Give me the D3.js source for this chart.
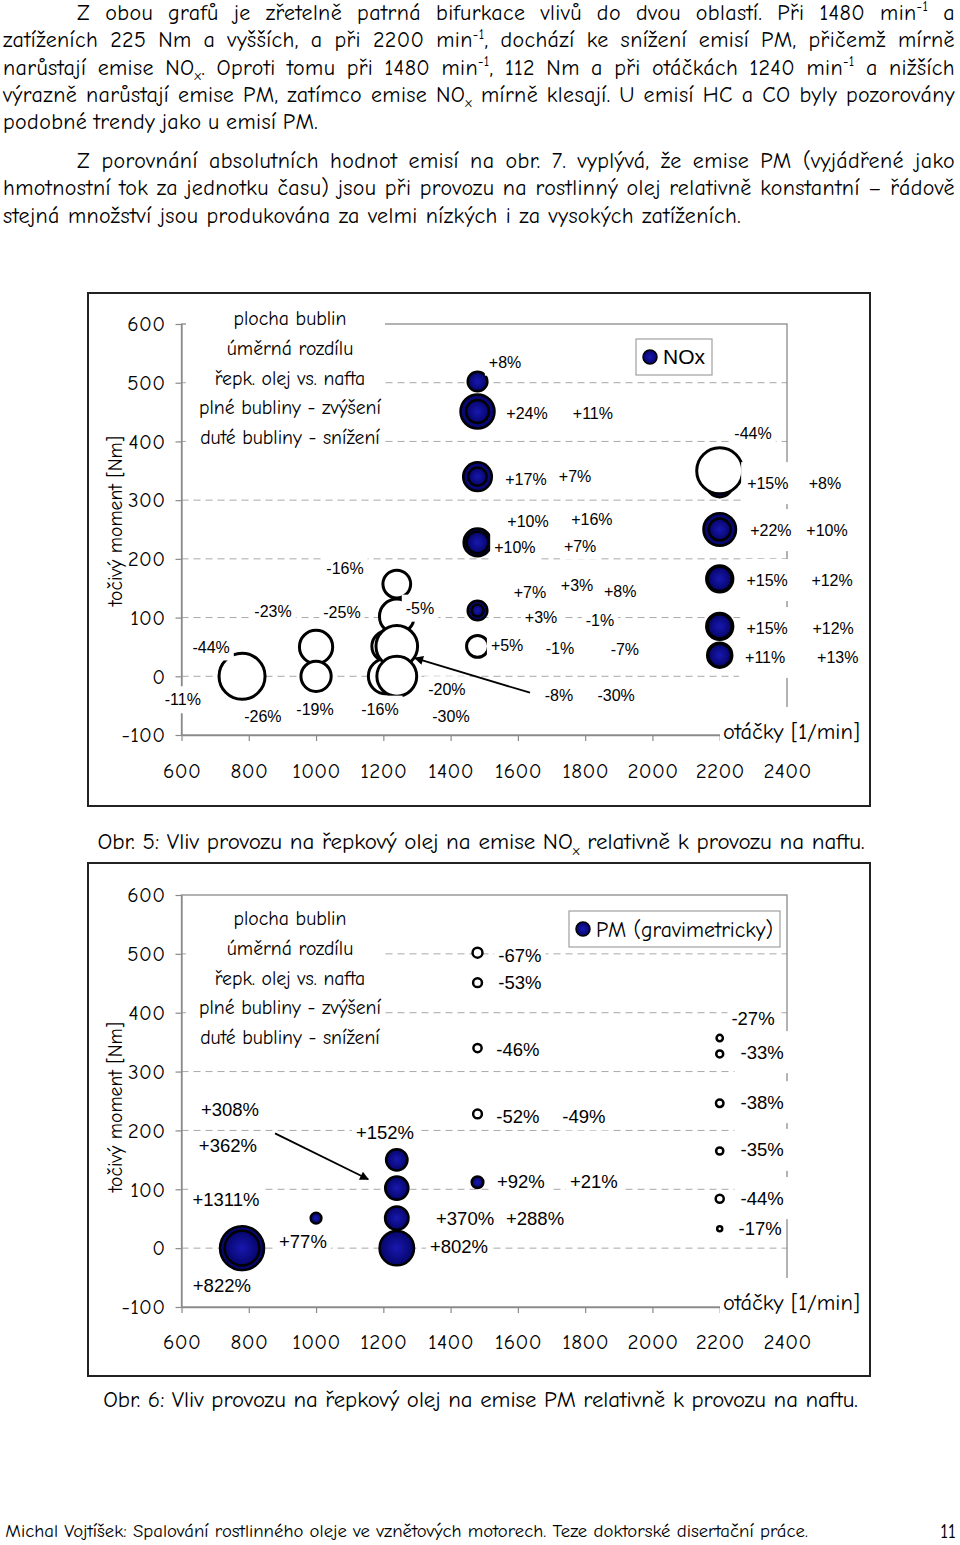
<!DOCTYPE html>
<html><head><meta charset="utf-8">
<script src="https://cdn.jsdelivr.net/npm/d3@7"></script>
<style>html,body{margin:0;padding:0;background:#fff;}svg{display:block;}</style>
</head><body>
<svg id="page" width="960" height="1545"></svg>
<script>
// ================= DATA =================
const paragraphLines = [
  "Z obou grafů je zřetelně patrná bifurkace vlivů do dvou oblastí. Při 1480 min^{-1} a",
  "zatíženích 225 Nm a vyšších, a při 2200 min^{-1}, dochází ke snížení emisí PM, přičemž mírně",
  "narůstají emise NO_{x}. Oproti tomu při 1480 min^{-1}, 112 Nm a při otáčkách 1240 min^{-1} a nižších",
  "výrazně narůstají emise PM, zatímco emise NO_{x} mírně klesají. U emisí HC a CO byly pozorovány",
  "podobné trendy jako u emisí PM.",
  "Z porovnání absolutních hodnot emisí na obr. 7. vyplývá, že emise PM (vyjádřené jako",
  "hmotnostní tok za jednotku času) jsou při provozu na rostlinný olej relativně konstantní – řádově",
  "stejná množství jsou produkována za velmi nízkých i za vysokých zatíženích."
];
const caption1 = "Obr. 5: Vliv provozu na řepkový olej na emise NO_{x} relativně k provozu na naftu.";
const caption2 = "Obr. 6: Vliv provozu na řepkový olej na emise PM relativně k provozu na naftu.";
const footerText = "Michal Vojtíšek: Spalování rostlinného oleje ve vznětových motorech. Teze doktorské disertační práce.";
const pageNumber = "11";

const xTicks = [600, 800, 1000, 1200, 1400, 1600, 1800, 2000, 2200, 2400];
const yTicks = [-100, 0, 100, 200, 300, 400, 500, 600];
const gridValues = [0, 100, 200, 300, 400, 500];
const yAxisTitle = "točivý moment [Nm]";
const xAxisTitle = "otáčky [1/min]";
const noteLines = ["plocha bublin", "úměrná rozdílu", "řepk. olej vs. nafta", "plné bubliny - zvýšení", "duté bubliny - snížení"];

// NOx bubbles: [otáčky 1/min, moment Nm, změna %]
const noxBubbles = [
  [780, 0, -44],
  [1000, 50, -23], [1000, 0, -19],
  [1212, 51, -20], [1208, 0, -26],
  [1240, 157, -16], [1240, 102, -25], [1240, 51, -36], [1240, 0, -33],
  [1480, 502, 8],
  [1480, 451, 24], [1480, 451, 11],
  [1480, 340, 17], [1480, 340, 7],
  [1480, 228, 16], [1480, 228, 10],
  [1480, 112, 8], [1480, 112, 3],
  [1480, 51, -10],
  [2200, 328, 15], [2200, 328, 8], [2200, 350, -44],
  [2200, 250, 22], [2200, 250, 10],
  [2200, 166, 15], [2200, 166, 12],
  [2200, 85, 15], [2200, 85, 12],
  [2200, 36, 13], [2200, 36, 11]
];
// NOx labels: [text, otáčky, moment]
const noxLabels = [
  ["-44%", 688, 50], ["-11%", 604, -40], ["-26%", 842, -69], ["-23%", 872, 110],
  ["-19%", 997, -56], ["-16%", 1086, 183], ["-25%", 1077, 108], ["-5%", 1309, 116],
  ["-16%", 1190, -56], ["-20%", 1389, -23], ["-30%", 1401, -69],
  ["+8%", 1562, 535], ["+24%", 1627, 448], ["+11%", 1823, 448],
  ["+17%", 1624, 336], ["+7%", 1770, 341],
  ["+10%", 1630, 263], ["+16%", 1820, 268], ["+10%", 1591, 219], ["+7%", 1785, 222],
  ["+7%", 1636, 143], ["+3%", 1776, 155], ["+8%", 1904, 145],
  ["+3%", 1669, 100], ["-1%", 1844, 96],
  ["+5%", 1568, 52], ["-1%", 1725, 48], ["-7%", 1918, 46],
  ["-8%", 1722, -32], ["-30%", 1892, -32],
  ["-44%", 2299, 413]
];
const noxSideLabels = [
  ["+15%", 2343, 329], ["+8%", 2513, 329],
  ["+22%", 2352, 249], ["+10%", 2519, 249],
  ["+15%", 2341, 164], ["+12%", 2534, 164],
  ["+15%", 2341, 82], ["+12%", 2537, 82],
  ["+11%", 2335, 33], ["+13%", 2551, 33]
];
const noxArrow = [[1636, -28], [1294, 31]];

// PM bubbles: [otáčky, moment, změna %]
const pmBubbles = [
  [780, 0, 1311], [780, 0, 822],
  [1000, 51, 77],
  [1240, 150, 308], [1240, 102, 362], [1240, 51, 370], [1240, 0, 802],
  [1480, 502, -67], [1480, 451, -53], [1480, 340, -46], [1480, 228, -52], [1480, 112, 92],
  [2200, 357, -27], [2200, 330, -33], [2200, 246, -38], [2200, 165, -35], [2200, 84, -44], [2200, 33, -17]
];
const pmLabels = [
  ["+308%", 744, 235], ["+362%", 738, 175], ["+1311%", 732, 83], ["+822%", 720, -63],
  ["+77%", 961, 12], ["+152%", 1205, 196], ["+370%", 1443, 51], ["+802%", 1425, 2],
  ["+288%", 1651, 51],
  ["-67%", 1606, 498], ["-53%", 1606, 451], ["-46%", 1600, 337],
  ["-52%", 1600, 224], ["-49%", 1796, 223],
  ["+92%", 1609, 114], ["+21%", 1826, 114],
  ["-27%", 2299, 390], ["-17%", 2320, 34]
];
const pmSideLabels = [
  ["-33%", 2326, 333], ["-38%", 2326, 248], ["-35%", 2326, 167], ["-44%", 2326, 85]
];
const pmArrow = [[878, 195], [1155, 117]];

// ================= DRAWING =================
const HAND = "'Comic Sans MS','Comic Neue','Open Sans',sans-serif";
const ARIAL = "'Liberation Sans',Arial,sans-serif";
const AXIS_GRAY = "#8a8a8a";
const GRID_GRAY = "#a8a8a8";
const svg = d3.select("#page");

const defs = svg.append("defs");
const grad = defs.append("radialGradient").attr("id", "navy");
grad.append("stop").attr("offset", "0%").attr("stop-color", "#1818b0");
grad.append("stop").attr("offset", "100%").attr("stop-color", "#05056a");
defs.append("marker").attr("id", "arrowHead").attr("viewBox", "0 0 10 10")
  .attr("refX", 9).attr("refY", 5).attr("markerWidth", 12).attr("markerHeight", 9)
  .attr("markerUnits", "userSpaceOnUse").attr("orient", "auto")
  .append("path").attr("d", "M0,0L10,5L0,10z").attr("fill", "#000");

function parseRich(str) {
  const parts = []; const re = /(\^\{[^}]*\}|_\{[^}]*\})/g; let last = 0, m;
  while ((m = re.exec(str))) {
    if (m.index > last) parts.push({ t: str.slice(last, m.index), type: "n" });
    parts.push({ t: m[0].slice(2, -1), type: m[0][0] === "^" ? "sup" : "sub" });
    last = re.lastIndex;
  }
  if (last < str.length) parts.push({ t: str.slice(last), type: "n" });
  return parts;
}
function plainLen(str) { return parseRich(str).reduce((s, p) => s + p.t.length, 0); }
function fillRich(textSel, str, fs) {
  textSel.selectAll("tspan").remove();
  textSel.attr("font-size", fs);
  let shift = 0;
  parseRich(str).forEach(p => {
    const ts = textSel.append("tspan").text(p.t);
    const target = p.type === "sup" ? -0.4 * fs : p.type === "sub" ? 0.25 * fs : 0;
    if (target - shift !== 0) ts.attr("dy", target - shift);
    shift = target;
    if (p.type !== "n") ts.attr("font-size", fs * 0.62);
  });
}

// ---- paragraph ----
const lineLayout = [
  { x: 77, right: 955, y: 20 }, { x: 3, right: 955, y: 47.3 }, { x: 3, right: 955, y: 74.6 },
  { x: 3, right: 955, y: 101.9 }, { x: 3, right: 318, y: 129.2, free: true },
  { x: 77, right: 955, y: 168 }, { x: 3, right: 955, y: 195.3 }, { x: 3, right: 741, y: 222.6, free: true }
];
const para = svg.append("g").attr("font-family", HAND).attr("fill", "#000");
const paraTexts = paragraphLines.map((s, i) => para.append("text").attr("x", lineLayout[i].x).attr("y", lineLayout[i].y));
let ratio = 0;
paraTexts.forEach((t, i) => {
  fillRich(t, paragraphLines[i], 20);
  if (!lineLayout[i].free) {
    const w = t.node().getComputedTextLength();
    ratio = Math.max(ratio, w / (lineLayout[i].right - lineLayout[i].x));
  }
});
const paraFs = Math.max(15, Math.min(22, 20 / ratio * 0.985));
const natural = [];
let ls = 10;
paraTexts.forEach((t, i) => {
  fillRich(t, paragraphLines[i], paraFs);
  const w = t.node().getComputedTextLength();
  natural.push(w);
  if (!lineLayout[i].free) {
    const target = lineLayout[i].right - lineLayout[i].x;
    ls = Math.min(ls, (target - w) / plainLen(paragraphLines[i]));
  }
});
ls = Math.max(0, ls * 0.8);
paraTexts.forEach((t, i) => {
  const str = paragraphLines[i];
  const target = lineLayout[i].right - lineLayout[i].x;
  const spaces = (str.match(/ /g) || []).length;
  const w = natural[i] + ls * plainLen(str);
  t.attr("letter-spacing", ls);
  if (spaces) t.attr("word-spacing", (target - w) / spaces);
});

function fitCaption(str, x0, x1, yb, baseFs) {
  const t = svg.append("text").attr("font-family", HAND).attr("fill", "#000").attr("y", yb);
  fillRich(t, str, baseFs);
  const w = t.node().getComputedTextLength();
  const fs = Math.max(13, Math.min(23, baseFs * (x1 - x0) / w));
  fillRich(t, str, fs);
  const w2 = t.node().getComputedTextLength();
  t.attr("x", (x0 + x1) / 2 - w2 / 2);
  return t;
}

// ---- chart ----
function drawChart(cfg) {
  const g = svg.append("g");
  const x = d3.scaleLinear().domain([600, 2400]).range([cfg.left, cfg.right]);
  const y = d3.scaleLinear().domain([-100, 600]).range([cfg.bottom, cfg.top]);
  const r = d3.scaleSqrt().domain([0, cfg.rRef[0]]).range([0, cfg.rRef[1]]);

  g.append("rect").attr("x", cfg.frame[0]).attr("y", cfg.frame[1]).attr("width", cfg.frame[2]).attr("height", cfg.frame[3])
    .attr("fill", "#fff").attr("stroke", "#222").attr("stroke-width", 2);

  g.append("g").selectAll("line").data(gridValues).join("line")
    .attr("x1", x(600)).attr("x2", x(2400)).attr("y1", d => y(d)).attr("y2", d => y(d))
    .attr("stroke", GRID_GRAY).attr("stroke-width", 1).attr("stroke-dasharray", "7,5");

  g.append("rect").attr("x", x(600)).attr("y", y(600)).attr("width", x(2400) - x(600)).attr("height", y(-100) - y(600))
    .attr("fill", "none").attr("stroke", AXIS_GRAY).attr("stroke-width", 1.3);

  const ya = g.append("g").attr("transform", `translate(${x(600)},0)`)
    .call(d3.axisLeft(y).tickValues(yTicks).tickSize(6).tickSizeOuter(0).tickPadding(10).tickFormat(d => String(d)));
  const xa = g.append("g").attr("transform", `translate(0,${y(-100)})`)
    .call(d3.axisBottom(x).tickValues(xTicks).tickSize(6).tickSizeOuter(0).tickPadding(cfg.tickPad).tickFormat(d => String(d)));
  [ya, xa].forEach(a => {
    a.attr("font-family", HAND).attr("font-size", 21);
    a.select(".domain").attr("stroke", AXIS_GRAY).attr("stroke-width", 1.3);
    a.selectAll(".tick line").attr("stroke", AXIS_GRAY).attr("stroke-width", 1.2);
    a.selectAll(".tick text").attr("fill", "#000").attr("letter-spacing", 0.4);
  });

  // note block
  const nb = g.append("g");
  const nbBg = nb.append("rect").attr("fill", "#fff");
  const nt = nb.append("g").attr("font-family", HAND).attr("fill", "#000");
  const noteTexts = noteLines.map((s, i) => nt.append("text").attr("x", 290).attr("y", cfg.noteY + i * 29.8)
    .attr("dy", "0.35em").attr("text-anchor", "middle").attr("font-size", 17).text(s));
  const maxW = d3.max(noteTexts, t => t.node().getComputedTextLength());
  noteTexts.forEach(t => t.attr("font-size", 17 * 182 / maxW));
  nbBg.attr("x", 186).attr("width", 199).attr("y", cfg.noteY - 15).attr("height", 4 * 29.8 + 30);

  // bubbles
  g.append("g").selectAll("circle").data(cfg.bubbles).join("circle")
    .attr("cx", d => x(d[0])).attr("cy", d => y(d[1])).attr("r", d => r(Math.abs(d[2])))
    .attr("fill", d => d[2] < 0 ? "#fff" : "url(#navy)")
    .attr("stroke", "#000").attr("stroke-width", d => d[2] < 0 ? cfg.openStroke : cfg.fillStroke);

  // labels
  const bgIn = g.append("g"), bgSide = g.append("g"), txIn = g.append("g"), txSide = g.append("g");
  function labels(tg, bg, data, halfH, padL, padR) {
    tg.selectAll("text").data(data).join("text")
      .attr("x", d => x(d[1])).attr("y", d => y(d[2])).attr("dy", "0.35em").attr("text-anchor", "middle")
      .attr("font-family", ARIAL).attr("font-size", cfg.labelFs).attr("fill", "#000").text(d => d[0])
      .each(function (d) {
        const bb = this.getBBox();
        bg.append("rect").attr("x", bb.x - padL).attr("width", bb.width + padL + padR)
          .attr("y", y(d[2]) - halfH).attr("height", 2 * halfH).attr("fill", "#fff");
      });
  }
  labels(txIn, bgIn, cfg.labels, 13.5, 4, 4);
  labels(txSide, bgSide, cfg.sideLabels, 21, 6, 10);

  // arrow
  g.append("line").attr("x1", x(cfg.arrow[0][0])).attr("y1", y(cfg.arrow[0][1]))
    .attr("x2", x(cfg.arrow[1][0])).attr("y2", y(cfg.arrow[1][1]))
    .attr("stroke", "#000").attr("stroke-width", 1.8).attr("marker-end", "url(#arrowHead)");

  // legend
  const L = cfg.legend;
  g.append("rect").attr("x", L.x).attr("y", L.y).attr("width", L.w).attr("height", L.h)
    .attr("fill", "#fff").attr("stroke", "#a0a0a0").attr("stroke-width", 1.2);
  g.append("circle").attr("cx", L.x + 14).attr("cy", L.y + L.h / 2).attr("r", 7)
    .attr("fill", "url(#navy)").attr("stroke", "#000").attr("stroke-width", 1.5);
  const lt = g.append("text").attr("x", L.x + 27).attr("y", L.y + L.h / 2).attr("dy", "0.35em")
    .attr("font-family", L.font).attr("font-size", 20).attr("fill", "#000").text(L.label);
  const lw = lt.node().getComputedTextLength();
  lt.attr("font-size", 20 * L.textW / lw);

  // x axis title
  const xtBg = g.append("rect").attr("fill", "#fff");
  const xt = g.append("text").attr("x", 723).attr("y", cfg.xTitleY).attr("dy", "0.35em")
    .attr("font-family", HAND).attr("font-size", 20).attr("fill", "#000").text(xAxisTitle);
  xt.attr("font-size", 20 * 137 / xt.node().getComputedTextLength());
  xtBg.attr("x", 720).attr("width", 145).attr("y", cfg.xTitleY - 24).attr("height", 38);

  // y axis title
  const yt = g.append("text").attr("transform", `translate(115,${cfg.yTitleCY}) rotate(-90)`)
    .attr("text-anchor", "middle").attr("dy", "0.35em")
    .attr("font-family", HAND).attr("font-size", 20).attr("fill", "#000").text(yAxisTitle);
  yt.attr("font-size", 20 * 170 / yt.node().getComputedTextLength());
}

drawChart({
  top: 324, bottom: 735, left: 181.5, right: 787, frame: [88, 293, 782, 513],
  rRef: [44, 23], noteY: 318, tickPad: 22, labelFs: 16, openStroke: 3, fillStroke: 2.5,
  bubbles: noxBubbles, labels: noxLabels, sideLabels: noxSideLabels, arrow: noxArrow,
  legend: { x: 636, y: 339, w: 76, h: 36, label: "NOx", font: ARIAL, textW: 42 },
  xTitleY: 731, yTitleCY: 521
});
drawChart({
  top: 895, bottom: 1307, left: 181.5, right: 787, frame: [88, 863, 782, 513],
  rRef: [1311, 22], noteY: 918, tickPad: 21, labelFs: 18.5, openStroke: 2.5, fillStroke: 2.5,
  bubbles: pmBubbles, labels: pmLabels, sideLabels: pmSideLabels, arrow: pmArrow,
  legend: { x: 569, y: 911, w: 211, h: 36, label: "PM (gravimetricky)", font: HAND, textW: 177 },
  xTitleY: 1302, yTitleCY: 1107
});

fitCaption(caption1, 97, 865, 849, 20);
fitCaption(caption2, 103, 858, 1407, 20);
fitCaption(footerText, 5, 808, 1537, 16);
svg.append("text").attr("x", 956).attr("y", 1538).attr("text-anchor", "end")
  .attr("font-family", HAND).attr("font-size", 20).attr("fill", "#000").text(pageNumber);
</script>
</body></html>
